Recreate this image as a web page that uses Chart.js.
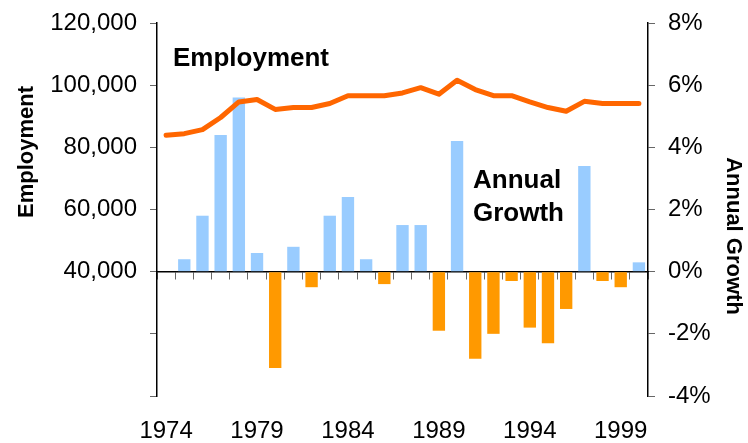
<!DOCTYPE html>
<html>
<head>
<meta charset="utf-8">
<script src="https://cdn.jsdelivr.net/npm/chart.js@4.4.1/dist/chart.umd.min.js"></script>
<style>
  html, body { margin: 0; padding: 0; background: #fff; }
  #wrap { width: 748px; height: 443px; position: relative; }
</style>
</head>
<body>
<div id="wrap"><canvas id="chart"></canvas></div>
<script>
// 데이터
const years = ['1974', '1975', '1976', '1977', '1978', '1979', '1980', '1981', '1982',
  '1983', '1984', '1985', '1986', '1987', '1988', '1989', '1990', '1991', '1992',
  '1993', '1994', '1995', '1996', '1997', '1998', '1999', '2000'];
const employment = [83900, 84400, 85700, 89600, 94600, 95400, 92200, 92800, 92800,
  94100, 96600, 96600, 96600, 97500, 99200, 97100, 101600, 98600, 96600,
  96600, 94600, 92800, 91600, 94800, 94100, 94100, 94100];
const growth = [null, 0.4, 1.8, 4.4, 5.6, 0.6, -3.1, 0.8, -0.5,
  1.8, 2.4, 0.4, -0.4, 1.5, 1.5, -1.9, 4.2, -2.8, -2.0,
  -0.3, -1.8, -2.3, -1.2, 3.4, -0.3, -0.5, 0.3];
const leftTicks = [0, 20000, 40000, 60000, 80000, 100000, 120000];
const rightTicks = [-4, -2, 0, 2, 4, 6, 8];

const FONT = '"Liberation Sans", Arial, sans-serif';

// 축 제목과 차트 안의 글자
const textPlugin = {
  id: 'textLabels',
  afterDraw(chart) {
    const ctx = chart.ctx;
    ctx.save();
    ctx.fillStyle = '#000';
    ctx.textBaseline = 'alphabetic';
    ctx.textAlign = 'left';
    ctx.font = 'bold 26px ' + FONT;
    ctx.fillText('Employment', 173, 66);
    ctx.fillText('Annual', 473, 188);
    ctx.fillText('Growth', 473, 221);

    ctx.font = 'bold 22px ' + FONT;
    ctx.textAlign = 'center';
    ctx.textBaseline = 'middle';
    ctx.save();
    ctx.translate(27, 152);
    ctx.rotate(-Math.PI / 2);
    ctx.fillText('Employment', 0, 0);
    ctx.restore();
    ctx.save();
    ctx.translate(733, 236);
    ctx.rotate(Math.PI / 2);
    ctx.fillText('Annual Growth', 0, 0);
    ctx.restore();
    ctx.restore();
  }
};

// 세로축 너비 고정, 위아래 여백 제거
function fixWidth(w) {
  return s => {
    s.width = w;
    s.paddingTop = 0;
    s.paddingBottom = 0;
  };
}

const ctx = document.getElementById('chart').getContext('2d');
const chart = new Chart(ctx, {
  type: 'bar',
  data: {
    labels: years,
    datasets: [
      {
        type: 'line',
        label: 'Employment',
        data: employment,
        yAxisID: 'y',
        borderColor: '#FF6600',
        borderWidth: 5,
        pointRadius: 0,
        tension: 0,
        borderJoinStyle: 'round',
        borderCapStyle: 'round',
        order: 0
      },
      {
        label: 'Annual Growth',
        data: growth,
        yAxisID: 'y1',
        backgroundColor: growth.map(v => v >= 0 ? '#99CCFF' : '#FF9900'),
        barPercentage: 0.68,
        categoryPercentage: 1,
        order: 1
      }
    ]
  },
  options: {
    responsive: true,
    maintainAspectRatio: false,
    animation: false,
    layout: { padding: { top: 23, left: 0, right: 0, bottom: 0 } },
    plugins: {
      legend: { display: false },
      tooltip: { enabled: false }
    },
    scales: {
      x: {
        position: 'bottom',
        grid: { display: false },
        border: { display: false },
        ticks: {
          autoSkip: false,
          maxRotation: 0,
          padding: 13,
          color: '#000',
          font: { family: FONT, size: 24 },
          callback: (val, i) => i % 5 === 0 ? years[i] : ''
        },
        afterFit: s => { s.height = 47; }
      },
      x2: {
        type: 'category',
        position: { y1: 0 },
        offset: true,
        grid: { drawOnChartArea: false, tickLength: 7, color: '#666', offset: true },
        border: { color: '#000', width: 1.5 },
        ticks: { display: false }
      },
      y: {
        position: 'left',
        min: leftTicks[0],
        max: leftTicks[leftTicks.length - 1],
        afterBuildTicks: s => { s.ticks = leftTicks.map(v => ({ value: v })); },
        grid: { drawOnChartArea: false, tickLength: 7, color: '#666' },
        border: { color: '#000', width: 1.5 },
        ticks: {
          padding: 13,
          color: '#000',
          font: { family: FONT, size: 24 },
          callback: v => v >= 40000 ? v.toLocaleString('en-US') : ''
        },
        afterFit: fixWidth(157)
      },
      y1: {
        position: 'right',
        min: rightTicks[0],
        max: rightTicks[rightTicks.length - 1],
        afterBuildTicks: s => { s.ticks = rightTicks.map(v => ({ value: v })); },
        grid: { drawOnChartArea: false, tickLength: 7, color: '#666' },
        border: { color: '#000', width: 1.5 },
        ticks: {
          padding: 13,
          color: '#000',
          font: { family: FONT, size: 24 },
          callback: v => v + '%'
        },
        afterFit: fixWidth(100)
      }
    }
  },
  plugins: [textPlugin]
});
</script>
</body>
</html>
